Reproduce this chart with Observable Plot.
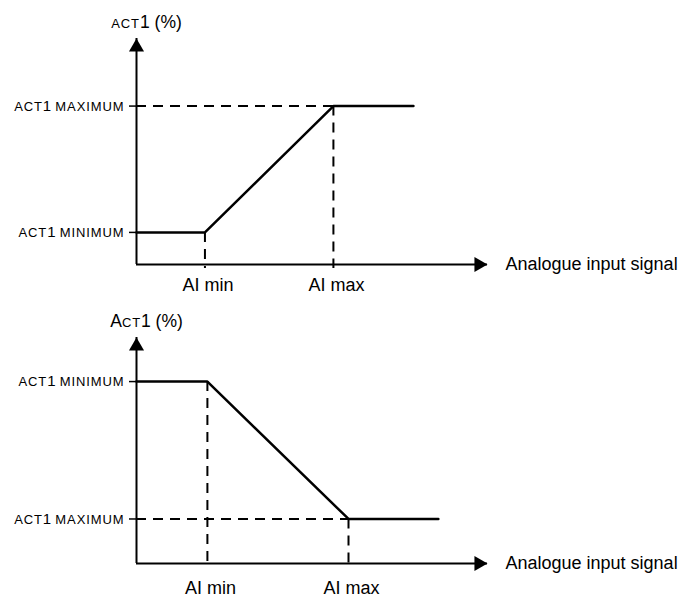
<!DOCTYPE html>
<html>
<head>
<meta charset="utf-8">
<script src="https://cdn.jsdelivr.net/npm/d3@7"></script>
<script src="https://cdn.jsdelivr.net/npm/@observablehq/plot@0.6"></script>
<style>
  html, body { margin: 0; padding: 0; background: #fff; }
  #chart svg { display: block; }
</style>
</head>
<body>
<div id="chart"></div>
<script>
// ---- data ----
const xTickLabels = ["AI min", "AI max"];
const yTickLabels = ["ACT1 MINIMUM", "ACT1 MAXIMUM"];
const panelTitles = ["ACT1 (%)", "ACT1 (%)"];
const xAxisLabel = "Analogue input signal";

// panel 1 (rising response)
const p1Breaks = [19.5, 56.1];   // AI min, AI max on the signal axis
const p1Levels = [14.2, 70.1];   // ACT1 MINIMUM, ACT1 MAXIMUM
const p1End = 78.9;

// panel 2 (falling response)
const p2Breaks = [20.2, 60.4];
const p2Levels = [80.5, 19.7];
const p2End = 86.0;

// ---- drawing ----
const FONT = "'Liberation Sans', Arial, Helvetica, sans-serif";

function smallCaps(svg, firstFull) {
  svg.querySelectorAll("text").forEach(t => {
    const s = t.textContent;
    if (!/ACT1/.test(s)) return;
    const isTitle = t.closest(".ptitle") != null;
    const runs = [];
    [...s].forEach((ch, i) => {
      const sc = /[A-Z]/.test(ch) && !(firstFull && isTitle && i === 0);
      if (runs.length && runs[runs.length - 1].sc === sc) runs[runs.length - 1].txt += ch;
      else runs.push({sc, txt: ch});
    });
    t.textContent = "";
    runs.forEach(r => {
      const ts = document.createElementNS("http://www.w3.org/2000/svg", "tspan");
      ts.textContent = r.txt;
      if (r.sc) {
        ts.style.fontSize = "13px";
        ts.style.letterSpacing = "0.9px";
      }
      t.appendChild(ts);
    });
  });
}

function panel(breaks, levels, end, title, labelDy, firstFull) {
  const pts = [
    {x: 0, y: levels[0]},
    {x: breaks[0], y: levels[0]},
    {x: breaks[1], y: levels[1]},
    {x: end, y: levels[1]}
  ];
  const guides = breaks.map((b, i) => ({x: b, y: levels[i], label: xTickLabels[i]}));
  const svg = Plot.plot({
    width: 690,
    height: 299,
    marginLeft: 136,
    marginRight: 203,
    marginTop: 38,
    marginBottom: 35,
    x: {domain: [0, 100], axis: null},
    y: {domain: [0, 100], axis: null},
    style: {fontFamily: FONT, fontSize: "18px", color: "#000", background: "#fff"},
    marks: [
      Plot.ruleY([levels[1]], {x1: 0, x2: breaks[1], strokeDasharray: "10,7", strokeWidth: 2}),
      Plot.ruleX(guides, {x: "x", y1: "y", y2: 0, strokeDasharray: "10,7", strokeWidth: 2, insetBottom: -4}),
      Plot.ruleX([0], {y1: 0, y2: 100, strokeWidth: 2}),
      Plot.ruleY([0], {x1: 0, x2: 100, strokeWidth: 2}),
      Plot.dot([{x: 0, y: 100}], {x: "x", y: "y", symbol: "triangle", r: 5.6, fill: "#000", stroke: "none", dy: 8.7}),
      Plot.dot([{x: 100, y: 0}], {x: "x", y: "y", symbol: "triangle", r: 5.6, fill: "#000", stroke: "none", rotate: 90, dx: -8.7}),
      Plot.line(pts, {x: "x", y: "y", strokeWidth: 2.5, strokeLinejoin: "miter"}),
      Plot.axisY(levels, {
        tickFormat: d => yTickLabels[levels.indexOf(d)],
        tickSize: 7, tickPadding: 5, fontSize: 15, strokeWidth: 1.5, label: null
      }),
      Plot.text([{x: 0, y: 100, t: title}], {x: "x", y: "y", text: "t", dx: 10, dy: -11, lineAnchor: "bottom", fontSize: 17.5, className: "ptitle"}),
      Plot.text(guides, {x: "x", y: () => 0, text: "label", dx: 3, dy: labelDy, lineAnchor: "bottom", fontSize: 18}),
      Plot.text([{x: 100, y: 0, t: xAxisLabel}], {x: "x", y: "y", text: "t", dx: 18, textAnchor: "start", lineAnchor: "middle", fontSize: 18})
    ]
  });
  smallCaps(svg, firstFull);
  return svg;
}

const chart = document.getElementById("chart");
chart.appendChild(panel(p1Breaks, p1Levels, p1End, panelTitles[0], 26, false));
chart.appendChild(panel(p2Breaks, p2Levels, p2End, panelTitles[1], 30, true));
</script>
</body>
</html>
